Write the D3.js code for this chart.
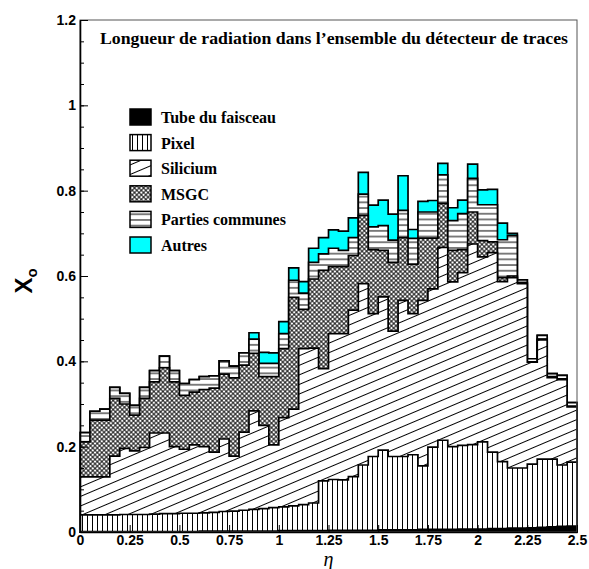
<!DOCTYPE html>
<meta charset="utf-8">
<script src="https://d3js.org/d3.v7.min.js"></script>
<style>
  body { margin: 0; background: #fff; }
  svg { display: block; }
  .tick text { font-family: "Liberation Sans", Arial, sans-serif; font-weight: bold; font-size: 14px; fill: #000; }
  .title, .legend text { font-family: "Liberation Serif", "Times New Roman", serif; font-weight: bold; }
</style>
<div id="chart"></div>
<script>
var width = 589, height = 569;
var margin = {top: 20, right: 12, bottom: 37, left: 80};

// 50 bins of 0.05 in eta, values in X0 per material
var nBins = 50, binWidth = 0.05;

var tube = [0.001,0.001,0.001,0.001,0.001,0.001,0.001,0.001,0.001,0.001,
            0.001,0.001,0.002,0.002,0.002,0.002,0.002,0.002,0.002,0.002,
            0.003,0.003,0.003,0.003,0.003,0.004,0.004,0.004,0.004,0.004,
            0.005,0.005,0.005,0.005,0.006,0.006,0.006,0.006,0.007,0.007,
            0.007,0.008,0.008,0.009,0.009,0.010,0.011,0.012,0.013,0.014];

var pixel = [0.039,0.039,0.039,0.039,0.040,0.040,0.040,0.041,0.042,0.042,
             0.043,0.043,0.043,0.044,0.046,0.047,0.049,0.051,0.053,0.055,
             0.056,0.058,0.061,0.065,0.117,0.119,0.118,0.126,0.153,0.173,
             0.187,0.172,0.172,0.176,0.149,0.193,0.209,0.194,0.196,0.198,
             0.204,0.179,0.157,0.141,0.141,0.149,0.160,0.159,0.144,0.150];

var silicium = [0.089,0.089,0.089,0.138,0.155,0.149,0.157,0.190,0.189,0.157,
                0.150,0.160,0.155,0.141,0.170,0.129,0.183,0.231,0.195,0.147,
                0.209,0.227,0.366,0.363,0.263,0.342,0.343,0.390,0.425,0.335,
                0.359,0.294,0.366,0.331,0.388,0.371,0.452,0.386,0.405,0.470,
                0.434,0.468,0.422,0.446,0.432,0.239,0.279,0.191,0.200,0.129];

var msgc = [0.082,0.133,0.133,0.135,0.104,0.084,0.115,0.120,0.153,0.152,
            0.126,0.124,0.134,0.150,0.152,0.183,0.157,0.135,0.114,0.160,
            0.162,0.262,0.092,0.162,0.230,0.157,0.157,0.128,0.160,0.150,
            0.109,0.161,0.147,0.116,0.146,0.119,0.103,0.074,0.054,0.075,
            0.038,0.025,0.009,0.004,0.002,0.001,0.002,0.002,0.002,0.002];

var communes = [0.022,0.021,0.026,0.026,0.025,0.023,0.026,0.026,0.027,0.026,
                0.028,0.029,0.030,0.029,0.031,0.028,0.029,0.033,0.031,0.031,
                0.035,0.040,0.038,0.039,0.039,0.043,0.038,0.042,0.050,0.053,
                0.058,0.052,0.064,0.060,0.061,0.061,0.067,0.070,0.084,0.079,
                0.084,0.087,0.089,0.095,0.007,0.007,0.009,0.007,0.008,0.008];

var autres = [0,0,0,0,0,0,0,0,0,0,
              0,0,0,0,0,0,0,0.015,0.026,0.025,
              0.028,0.029,0.027,0.033,0.038,0.043,0.045,0.046,0.051,0.051,
              0.060,0.061,0.081,0.021,0.025,0.027,0.027,0.030,0.032,0.033,
              0.035,0.036,0.039,0.005,0,0,0,0,0,0];

var keys = ["tube", "pixel", "silicium", "msgc", "communes", "autres"];
var labels = ["Tube du faisceau", "Pixel", "Silicium", "MSGC", "Parties communes", "Autres"];

var xTicks = [0, 0.25, 0.5, 0.75, 1, 1.25, 1.5, 1.75, 2, 2.25, 2.5];
var xTickLabels = ["0", "0.25", "0.5", "0.75", "1", "1.25", "1.5", "1.75", "2", "2.25", "2.5"];
var yTicks = [0, 0.2, 0.4, 0.6, 0.8, 1, 1.2];
var yTickLabels = ["0", "0.2", "0.4", "0.6", "0.8", "1", "1.2"];

var title = "Longueur de radiation dans l\u2019ensemble du d\u00e9tecteur de traces";

var rows = d3.range(nBins).map(function(i) {
  return {bin: i, tube: tube[i], pixel: pixel[i], silicium: silicium[i],
          msgc: msgc[i], communes: communes[i], autres: autres[i]};
});
var series = d3.stack().keys(keys)(rows);

var x = d3.scaleLinear().domain([0, 2.5]).range([margin.left, width - margin.right]);
var y = d3.scaleLinear().domain([0, 1.2]).range([height - margin.bottom, margin.top]);

var svg = d3.select("#chart").append("svg")
  .attr("width", width)
  .attr("height", height);

// hatch patterns
var defs = svg.append("defs");

function pattern(id, w, h, transform) {
  var p = defs.append("pattern")
    .attr("id", id)
    .attr("patternUnits", "userSpaceOnUse")
    .attr("width", w).attr("height", h);
  if (transform) p.attr("patternTransform", transform);
  p.append("rect").attr("width", w).attr("height", h).attr("fill", "#fff");
  return p;
}

var pTube = pattern("pat-tube", 4, 4);
pTube.select("rect").attr("fill", "#000");

var pPix = pattern("pat-pixel", 5, 10);
pPix.append("line").attr("x1", 2.5).attr("x2", 2.5).attr("y1", 0).attr("y2", 10)
  .attr("stroke", "#000").attr("stroke-width", 1);

var pSil = pattern("pat-silicium", 10, 8.8, "rotate(-23)");
pSil.append("line").attr("x1", 0).attr("x2", 10).attr("y1", 4.4).attr("y2", 4.4)
  .attr("stroke", "#000").attr("stroke-width", 1);

var pMs = pattern("pat-msgc", 3.2, 3.2, "rotate(45)");
pMs.append("line").attr("x1", 0).attr("x2", 3.2).attr("y1", 1.6).attr("y2", 1.6)
  .attr("stroke", "#000").attr("stroke-width", 0.9);
pMs.append("line").attr("x1", 1.6).attr("x2", 1.6).attr("y1", 0).attr("y2", 3.2)
  .attr("stroke", "#000").attr("stroke-width", 0.9);

var pCom = pattern("pat-communes", 10, 5.7);
pCom.append("line").attr("x1", 0).attr("x2", 10).attr("y1", 2.85).attr("y2", 2.85)
  .attr("stroke", "#000").attr("stroke-width", 1);

var pAut = pattern("pat-autres", 4, 4);
pAut.select("rect").attr("fill", "#00ffff");

// stacked histograms, drawn from the total down like a THStack
var area = d3.area()
  .x(function(d) { return x(d[0]); })
  .y0(y(0))
  .y1(function(d) { return y(d[1]); })
  .curve(d3.curveStepAfter);

series.slice().reverse().forEach(function(s) {
  var pts = s.map(function(d, i) { return [i * binWidth, d[1]]; });
  pts.push([nBins * binWidth, s[nBins - 1][1]]);
  svg.append("path")
    .attr("d", area(pts))
    .attr("fill", "url(#pat-" + s.key + ")")
    .attr("stroke", "#000")
    .attr("stroke-width", 1.7)
    .attr("stroke-linejoin", "miter");
});

// frame
svg.append("rect")
  .attr("x", x(0)).attr("y", y(1.2))
  .attr("width", x(2.5) - x(0)).attr("height", y(0) - y(1.2))
  .attr("fill", "none").attr("stroke", "#555").attr("stroke-width", 1);

// axes
svg.append("g")
  .attr("transform", "translate(" + x(0) + ",0)")
  .call(d3.axisLeft(y).tickValues(yTicks)
    .tickFormat(function(d, i) { return yTickLabels[i]; })
    .tickSizeInner(-8).tickSizeOuter(0).tickPadding(4));
svg.append("g")
  .attr("transform", "translate(" + x(0) + ",0)")
  .call(d3.axisLeft(y).tickValues(d3.range(0, 1.2001, 0.05))
    .tickFormat("").tickSizeInner(-4).tickSizeOuter(0))
  .select(".domain").remove();

svg.append("g")
  .attr("transform", "translate(0," + y(0) + ")")
  .call(d3.axisBottom(x).tickValues(xTicks)
    .tickFormat(function(d, i) { return xTickLabels[i]; })
    .tickSizeInner(-7).tickSizeOuter(0).tickPadding(3));

svg.selectAll(".domain").attr("stroke", "#000").attr("stroke-width", 1.6);
svg.selectAll(".tick line").attr("stroke", "#000");

// axis titles
svg.append("text")
  .attr("x", x(1.25)).attr("y", 566)
  .attr("text-anchor", "middle")
  .style("font-family", "'Liberation Serif', serif")
  .style("font-style", "italic")
  .style("font-size", "20px")
  .text("\u03b7");

var yt = svg.append("text")
  .attr("transform", "translate(32,281) rotate(-90)")
  .attr("text-anchor", "middle")
  .style("font-family", "'Liberation Sans', Arial, sans-serif")
  .style("font-weight", "bold")
  .style("font-size", "24px");
yt.append("tspan").text("X");
yt.append("tspan").attr("dy", 5).style("font-size", "15px").text("o");

// title
svg.append("text")
  .attr("class", "title")
  .attr("x", 100).attr("y", 44)
  .attr("textLength", 468).attr("lengthAdjust", "spacingAndGlyphs")
  .style("font-size", "16.5px")
  .text(title);

// legend
var legend = svg.append("g").attr("class", "legend");
keys.forEach(function(k, i) {
  var g = legend.append("g").attr("transform", "translate(130," + (109 + i * 25.6) + ")");
  g.append("rect")
    .attr("width", 21).attr("height", 16)
    .attr("fill", "url(#pat-" + k + ")")
    .attr("stroke", "#000").attr("stroke-width", 1.5);
  g.append("text")
    .attr("x", 31).attr("y", 14)
    .style("font-size", "16px")
    .text(labels[i]);
});
</script>
